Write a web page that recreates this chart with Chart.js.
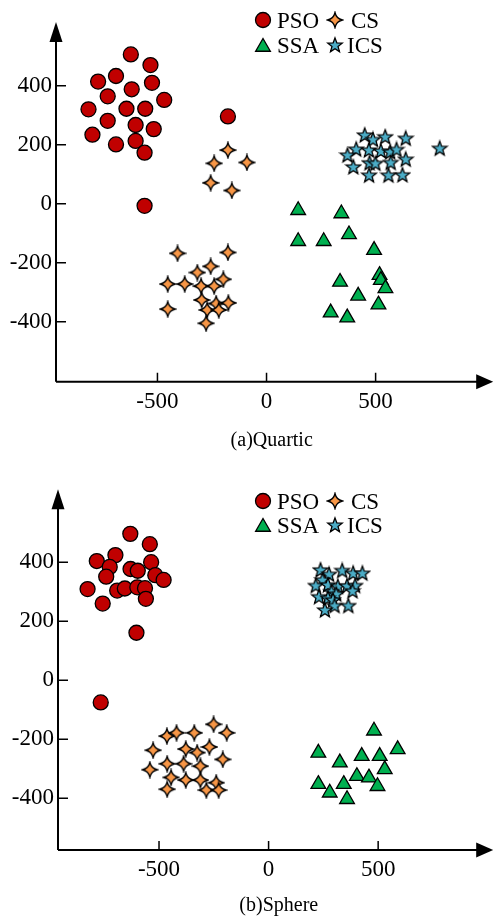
<!DOCTYPE html>
<html><head><meta charset="utf-8">
<script src="https://cdn.jsdelivr.net/npm/chart.js@4.4.1/dist/chart.umd.min.js"></script>
<style>
html,body{margin:0;padding:0;background:#fff;}
#wrap{position:relative;width:503px;height:918px;overflow:hidden;}
canvas{position:absolute;left:0;}
</style>
</head><body>
<div id="wrap">
<canvas id="c1" width="503" height="460" style="top:0px"></canvas>
<canvas id="c2" width="503" height="458" style="top:460px"></canvas>
</div>
<script>
// ---- categories / tick labels ----
const seriesNames = ['PSO', 'CS', 'SSA', 'ICS'];
const xTicks = [-500, 0, 500];
const yTicks = [-400, -200, 0, 200, 400];
const captions = ['(a)Quartic', '(b)Sphere'];

// ---- (a) Quartic ----
const quarticPsoX = [-622,-532,-690,-772,-525,-618,-728,-469,-816,-642,-556,-728,-600,-517,-798,-690,-600,-559,-559,-177];
const quarticPsoY = [506,470,433,414,410,388,364,352,320,322,322,281,267,253,234,201,213,173,-7,296];
const quarticCsX = [-177,-240,-90,-256,-159,-408,-177,-256,-317,-453,-375,-300,-240,-198,-297,-231,-175,-453,-272,-219,-277];
const quarticCsY = [182,137,140,71,45,-168,-165,-212,-233,-272,-272,-279,-279,-256,-326,-338,-336,-357,-360,-360,-405];
const quarticSsaX = [145,343,145,262,378,493,518,524,545,337,420,513,294,370];
const quarticSsaY = [-22,-33,-127,-127,-104,-157,-242,-259,-287,-265,-312,-342,-369,-386];
const quarticIcsX = [450,488,544,638,411,469,524,567,596,371,794,472,499,569,638,398,470,559,623];
const quarticIcsY = [233,218,227,222,185,182,179,176,184,165,188,139,137,140,151,125,97,97,98];

// ---- (b) Sphere ----
const spherePsoX = [-631,-542,-699,-784,-536,-725,-630,-597,-741,-517,-479,-826,-691,-656,-599,-564,-757,-560,-603,-766];
const spherePsoY = [496,461,424,404,400,384,377,371,351,356,340,309,304,311,315,312,260,276,161,-75];
const sphereCsX = [-251,-191,-464,-420,-339,-270,-527,-378,-326,-209,-542,-463,-388,-311,-445,-378,-311,-239,-463,-284,-228];
const sphereCsY = [-149,-178,-189,-178,-178,-226,-237,-233,-245,-268,-303,-283,-283,-291,-329,-338,-338,-347,-369,-372,-372];
const sphereSsaX = [481,227,589,325,425,507,530,403,458,227,343,497,279,358];
const sphereSsaY = [-171,-246,-234,-279,-257,-257,-302,-325,-330,-352,-352,-359,-381,-403];
const sphereIcsX = [237,276,336,386,428,246,215,271,316,358,395,383,287,230,309,271,294,301,364,257];
const sphereIcsY = [374,359,372,363,363,340,321,323,318,320,321,303,300,283,292,278,272,253,253,238];

// ---- marker images ----
function makeStar5(fill) {
  const c = document.createElement('canvas'); c.width = 18; c.height = 18;
  const g = c.getContext('2d');
  g.beginPath();
  for (let i = 0; i < 10; i++) {
    const r = i % 2 ? 3.2 : 7.6;
    const a = -Math.PI / 2 + i * Math.PI / 5;
    g.lineTo(9 + r * Math.cos(a), 9.5 + r * Math.sin(a));
  }
  g.closePath();
  g.fillStyle = fill; g.fill();
  g.lineWidth = 1.3; g.strokeStyle = '#000'; g.lineJoin = 'miter'; g.stroke();
  return c;
}
function makeStar4(fill) {
  const c = document.createElement('canvas'); c.width = 18; c.height = 18;
  const g = c.getContext('2d');
  const cx = 9, cy = 9, R = 7.5, k = 1.3;
  g.beginPath();
  g.moveTo(cx, cy - R);
  g.quadraticCurveTo(cx + k, cy - k, cx + R, cy);
  g.quadraticCurveTo(cx + k, cy + k, cx, cy + R);
  g.quadraticCurveTo(cx - k, cy + k, cx - R, cy);
  g.quadraticCurveTo(cx - k, cy - k, cx, cy - R);
  g.closePath();
  g.fillStyle = fill; g.fill();
  g.lineWidth = 1.3; g.strokeStyle = '#000'; g.stroke();
  return c;
}
const colors = ['#C00000', '#F79646', '#00B050', '#4BACC6'];
const csImg = makeStar4(colors[1]);
const icsImg = makeStar5(colors[3]);
const FONT = '"Liberation Serif", "Times New Roman", serif';

function zip(xs, ys) { return xs.map((x, i) => ({ x: x, y: ys[i] })); }

function drawMarker(ctx, idx, x, y) {
  ctx.save();
  ctx.lineWidth = 1.3; ctx.strokeStyle = '#000';
  if (idx === 0) {
    ctx.beginPath(); ctx.arc(x, y, 7.5, 0, Math.PI * 2);
    ctx.fillStyle = colors[0]; ctx.fill(); ctx.stroke();
  } else if (idx === 2) {
    const r = 8.5;
    ctx.beginPath();
    ctx.moveTo(x, y - r);
    ctx.lineTo(x + r * Math.sin(Math.PI * 2 / 3), y - r * Math.cos(Math.PI * 2 / 3));
    ctx.lineTo(x - r * Math.sin(Math.PI * 2 / 3), y - r * Math.cos(Math.PI * 2 / 3));
    ctx.closePath();
    ctx.fillStyle = colors[2]; ctx.fill(); ctx.stroke();
  } else {
    const img = idx === 1 ? csImg : icsImg;
    ctx.drawImage(img, x - 9, y - 9);
  }
  ctx.restore();
}

function makePanel(canvas, p) {
  const deco = {
    id: 'deco',
    afterDraw(chart) {
      const ctx = chart.ctx;
      const xs = chart.scales.x, ys = chart.scales.y;
      const a = chart.chartArea;
      ctx.save();
      ctx.strokeStyle = '#000'; ctx.fillStyle = '#000'; ctx.lineWidth = 2;
      // axes
      ctx.beginPath();
      ctx.moveTo(a.left, a.bottom); ctx.lineTo(a.right - 15, a.bottom);
      ctx.moveTo(a.left, a.bottom); ctx.lineTo(a.left, a.top + 18);
      ctx.stroke();
      // arrows
      ctx.beginPath();
      ctx.moveTo(a.right, a.bottom); ctx.lineTo(a.right - 17, a.bottom - 7.5); ctx.lineTo(a.right - 17, a.bottom + 7.5); ctx.closePath(); ctx.fill();
      ctx.beginPath();
      ctx.moveTo(a.left, a.top); ctx.lineTo(a.left - 6.5, a.top + 20); ctx.lineTo(a.left + 6.5, a.top + 20); ctx.closePath(); ctx.fill();
      // inner tick marks
      ctx.lineWidth = 1.5;
      ctx.beginPath();
      xTicks.forEach(v => { const px = xs.getPixelForValue(v); ctx.moveTo(px, a.bottom); ctx.lineTo(px, a.bottom - 9); });
      yTicks.forEach(v => { const py = ys.getPixelForValue(v); ctx.moveTo(a.left, py); ctx.lineTo(a.left + 10, py); });
      ctx.stroke();
      // legend
      ctx.font = '23px ' + FONT;
      ctx.textAlign = 'left'; ctx.textBaseline = 'alphabetic';
      const L = p.legend;
      const pos = [[L.x1, L.r1], [L.x2, L.r1], [L.x2 - 72, L.r2], [L.x2, L.r2]];
      const tx = [L.x1 + 14, L.x2 + 16, L.x1 + 14, L.x2 + 12];
      seriesNames.forEach((n, i) => {
        drawMarker(ctx, i, pos[i][0], pos[i][1] + (i === 2 ? 2 : 0));
        ctx.fillStyle = '#000';
        ctx.fillText(n, tx[i], pos[i][1] + 8);
      });
      // caption
      ctx.font = '20px ' + FONT;
      ctx.textAlign = 'center';
      ctx.fillText(p.caption, p.capX, p.capY);
      ctx.restore();
    }
  };
  return new Chart(canvas, {
    type: 'scatter',
    data: {
      datasets: [
        { label: seriesNames[0], data: p.pso, pointStyle: 'circle', pointRadius: 7.5, backgroundColor: colors[0], borderColor: '#000', borderWidth: 1.3 },
        { label: seriesNames[1], data: p.cs, pointStyle: csImg, pointRadius: 8, backgroundColor: colors[1], borderColor: '#000' },
        { label: seriesNames[2], data: p.ssa, pointStyle: 'triangle', pointRadius: 8.5, backgroundColor: colors[2], borderColor: '#000', borderWidth: 1.3 },
        { label: seriesNames[3], data: p.ics, pointStyle: icsImg, pointRadius: 8, backgroundColor: colors[3], borderColor: '#000' }
      ]
    },
    options: {
      responsive: false, animation: false, devicePixelRatio: 1,
      layout: { padding: { top: p.top, right: 503 - p.right, left: 0, bottom: 0 } },
      plugins: { legend: { display: false }, tooltip: { enabled: false } },
      scales: {
        x: {
          type: 'linear', min: p.xMin, max: p.xMax,
          border: { display: false },
          grid: { display: false, drawTicks: false },
          afterBuildTicks: s => { s.ticks = xTicks.map(v => ({ value: v })); },
          afterFit: s => { s.height = p.height - p.bottom; },
          ticks: { color: '#000', font: { family: FONT, size: 23 }, padding: 6, maxRotation: 0, autoSkip: false, callback: v => String(v) }
        },
        y: {
          type: 'linear', min: p.yMin, max: p.yMax,
          border: { display: false },
          grid: { display: false, drawTicks: false },
          afterBuildTicks: s => { s.ticks = yTicks.map(v => ({ value: v })); },
          afterFit: s => { s.width = p.left; },
          ticks: { color: '#000', font: { family: FONT, size: 23 }, padding: 4, autoSkip: false, callback: v => String(v) }
        }
      }
    },
    plugins: [deco]
  });
}

makePanel(document.getElementById('c1'), {
  pso: zip(quarticPsoX, quarticPsoY), cs: zip(quarticCsX, quarticCsY),
  ssa: zip(quarticSsaX, quarticSsaY), ics: zip(quarticIcsX, quarticIcsY),
  xMin: -965, xMax: 1039, yMin: -603, yMax: 616,
  left: 56, right: 501.7, top: 22, bottom: 381.7, height: 460,
  legend: { x1: 263, x2: 335, r1: 20, r2: 45 },
  caption: captions[0], capX: 271.7, capY: 446
});
makePanel(document.getElementById('c2'), {
  pso: zip(spherePsoX, spherePsoY), cs: zip(sphereCsX, sphereCsY),
  ssa: zip(sphereSsaX, sphereSsaY), ics: zip(sphereIcsX, sphereIcsY),
  xMin: -961, xMax: 1025, yMin: -575, yMax: 647,
  left: 58, right: 501.7, top: 29.3, bottom: 390, height: 458,
  legend: { x1: 263, x2: 335, r1: 41, r2: 65 },
  caption: captions[1], capX: 278.8, capY: 451
});
</script>
</body></html>
